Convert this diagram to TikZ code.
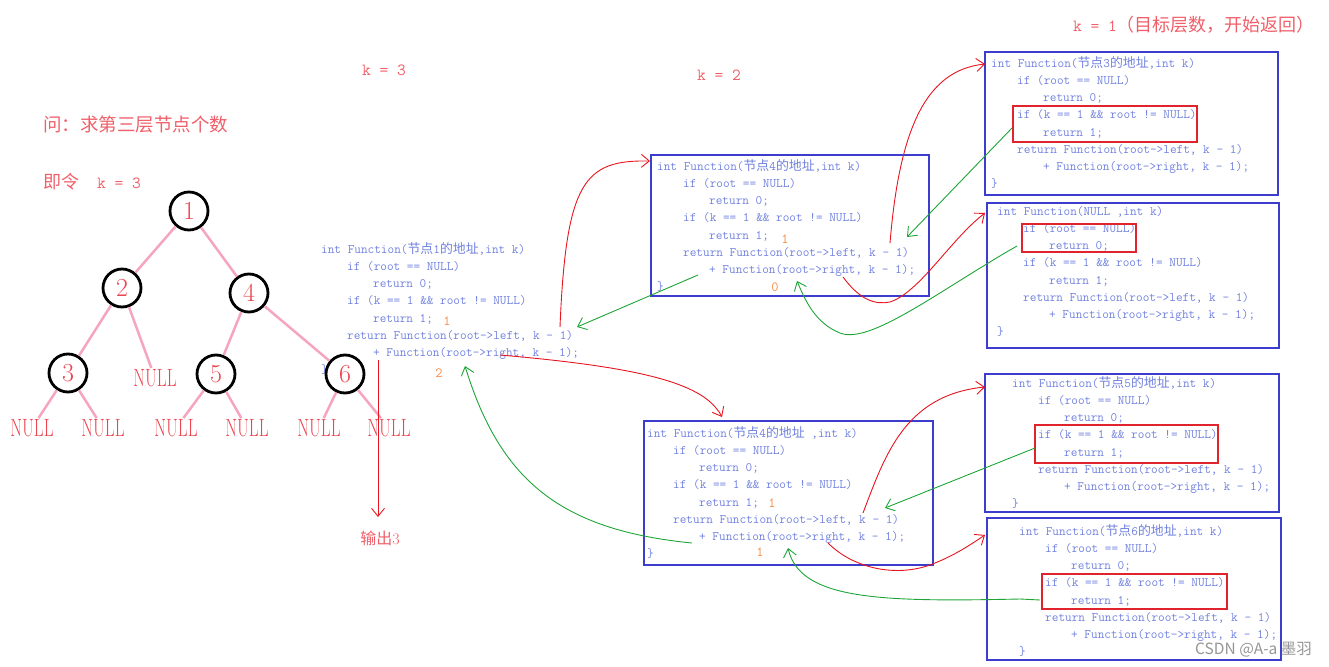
\documentclass[tikz,border=0pt]{standalone}
\usepackage{fontspec}
\usepackage{graphicx}
\usetikzlibrary{arrows.meta}
\newfontfamily\cjk{Noto Sans CJK SC}
\definecolor{codeblue}{RGB}{112,128,222}
\definecolor{boxblue}{RGB}{60,60,205}
\definecolor{hired}{RGB}{225,35,45}
\definecolor{arrred}{RGB}{232,20,30}
\definecolor{arrgreen}{RGB}{30,165,55}
\definecolor{txtred}{RGB}{240,95,105}
\definecolor{treered}{RGB}{235,70,80}
\definecolor{treepink}{RGB}{245,165,190}
\definecolor{numorange}{RGB}{245,140,70}
\definecolor{wmgray}{RGB}{150,150,150}
\newcommand\codefont{\fontsize{12.9}{17.2}\selectfont\ttfamily}
\newcommand\fstr{\rule{0pt}{12pt}}
\newcommand\inda{\hspace*{26pt}}
\newcommand\indb{\hspace*{52pt}}
\newcommand\nul{\scalebox{0.68}[1]{NULL}}
\tikzset{
  codetext/.style={anchor=north west, inner sep=0pt, align=left, text=codeblue, font=\codefont},
  cbox/.style={draw=boxblue, line width=1.2pt, inner sep=0pt},
  hbox/.style={draw=hired, line width=1.2pt, inner sep=0pt},
  redarr/.style={draw=arrred, line width=0.9pt, -{Straight Barb[length=8pt,width=13pt]}},
  grnarr/.style={draw=arrgreen, line width=0.9pt, -{Straight Barb[length=8pt,width=13pt]}},
  tn/.style={circle, draw=black, line width=2.8pt, minimum size=38pt, inner sep=0pt, fill=white, text=treered, font=\fontsize{26}{26}\selectfont},
  nl/.style={inner sep=1pt, text=treered, font=\fontsize{25}{25}\selectfont},
  tedge/.style={draw=treepink, line width=2.5pt},
  rtxt/.style={text=txtred, inner sep=0pt, anchor=west},
  onum/.style={text=numorange, inner sep=0pt, font=\fontsize{14}{14}\selectfont\ttfamily},
}
\begin{document}
\begin{tikzpicture}[x=1pt,y=-1pt]
\useasboundingbox (0,0) rectangle (1329,666);

% titles
\node[rtxt, font=\fontsize{18.5}{18.5}\selectfont\cjk] (q) at (43,125) {问：求第三层节点个数};
\node[rtxt, font=\fontsize{17}{17}\selectfont] (lk) at (43,182) {{\fontsize{18}{18}\selectfont\cjk 即令}\hspace{18pt}{\ttfamily k = 3}};
\node[rtxt, font=\fontsize{17}{17}\selectfont\ttfamily] (k3) at (362,70) {k = 3};
\node[rtxt, font=\fontsize{17}{17}\selectfont\ttfamily] (k2) at (697,75) {k = 2};
\node[rtxt, font=\fontsize{17}{17}\selectfont] (k1) at (1073,25) {{\ttfamily k = 1}{\fontsize{18}{18}\selectfont\cjk （目标层数，开始返回）}};

% code 1 (no frame)
\node[codetext] (c1) at (321,241) {\fstr int Function({\cjk 节点}1{\cjk 的地址},int k)\\
\inda if (root == NULL)\\
\indb return 0;\\
\inda if (k == 1 \&\& root != NULL)\\
\indb return 1;\\
\inda return Function(root->left, k - 1)\\
\indb + Function(root->right, k - 1);\\
\}};

% boxes
\node[cbox, minimum width=278pt, minimum height=141pt] (bA) at (790,225.5) {};
\node[codetext] (cA) at (657,158) {\fstr int Function({\cjk 节点}4{\cjk 的地址},int k)\\
\inda if (root == NULL)\\
\indb return 0;\\
\inda if (k == 1 \&\& root != NULL)\\
\indb return 1;\\
\inda return Function(root->left, k - 1)\\
\indb + Function(root->right, k - 1);\\
\}};

\node[cbox, minimum width=289pt, minimum height=144pt] (bB) at (788.5,493) {};
\node[codetext] (cB) at (647,425) {\fstr int Function({\cjk 节点}4{\cjk 的地址} ,int k)\\
\inda if (root == NULL)\\
\indb return 0;\\
\inda if (k == 1 \&\& root != NULL)\\
\indb return 1;\\
\inda return Function(root->left, k - 1)\\
\indb + Function(root->right, k - 1);\\
\}};

\node[cbox, minimum width=293pt, minimum height=143pt] (bC) at (1131.5,123.5) {};
\node[codetext] (cC) at (991,55) {\fstr int Function({\cjk 节点}3{\cjk 的地址},int k)\\
\inda if (root == NULL)\\
\indb return 0;\\
\inda if (k == 1 \&\& root != NULL)\\
\indb return 1;\\
\inda return Function(root->left, k - 1)\\
\indb + Function(root->right, k - 1);\\
\}};
\node[hbox, minimum width=184pt, minimum height=36pt] (hC) at (1105,124) {};

\node[cbox, minimum width=292pt, minimum height=145pt] (bD) at (1133,275.5) {};
\node[codetext] (cD) at (997,203) {\fstr int Function(NULL ,int k)\\
\inda if (root == NULL)\\
\indb return 0;\\
\inda if (k == 1 \&\& root != NULL)\\
\indb return 1;\\
\inda return Function(root->left, k - 1)\\
\indb + Function(root->right, k - 1);\\
\}};
\node[hbox, minimum width=114pt, minimum height=28pt] (hD) at (1079,238) {};

\node[cbox, minimum width=294pt, minimum height=138pt] (bE) at (1132,443) {};
\node[codetext] (cE) at (1012,375) {\fstr int Function({\cjk 节点}5{\cjk 的地址},int k)\\
\inda if (root == NULL)\\
\indb return 0;\\
\inda if (k == 1 \&\& root != NULL)\\
\indb return 1;\\
\inda return Function(root->left, k - 1)\\
\indb + Function(root->right, k - 1);\\
\}};
\node[hbox, minimum width=183pt, minimum height=38pt] (hE) at (1126.5,444) {};

\node[cbox, minimum width=294pt, minimum height=142pt] (bF) at (1134,589) {};
\node[codetext] (cF) at (1019,523) {\fstr int Function({\cjk 节点}6{\cjk 的地址},int k)\\
\inda if (root == NULL)\\
\indb return 0;\\
\inda if (k == 1 \&\& root != NULL)\\
\indb return 1;\\
\inda return Function(root->left, k - 1)\\
\indb + Function(root->right, k - 1);\\
\}};
\node[hbox, minimum width=185pt, minimum height=35pt] (hF) at (1134.5,591.5) {};

% orange numbers
\node[onum] (o1) at (447,321) {1};
\node[onum] (o2) at (439,373) {2};
\node[onum] (o3) at (785,239) {1};
\node[onum] (o4) at (775,287) {0};
\node[onum] (o5) at (772,503) {1};
\node[onum] (o6) at (760,552) {1};

% tree
\node[tn] (n1) at (189,211) {1};
\node[tn] (n2) at (122,288) {2};
\node[tn] (n4) at (249,293) {4};
\node[tn] (n3) at (68,373) {3};
\node[tn] (n5) at (216,374) {5};
\node[tn] (n6) at (345,374) {6};
\node[nl] (u2) at (155,378) {\nul};
\node[nl] (l1) at (32,428) {\nul};
\node[nl] (l2) at (103,428) {\nul};
\node[nl] (l3) at (176,428) {\nul};
\node[nl] (l4) at (247,428) {\nul};
\node[nl] (l5) at (319,428) {\nul};
\node[nl] (l6) at (389,428) {\nul};
\draw[tedge] (n1) -- (n2);
\draw[tedge] (n1) -- (n4);
\draw[tedge] (n2) -- (n3);
\draw[tedge] (n2) -- (u2);
\draw[tedge] (n4) -- (n5);
\draw[tedge] (n4) -- (n6);
\draw[tedge] (n3) -- (l1);
\draw[tedge] (n3) -- (l2);
\draw[tedge] (n5) -- (l3);
\draw[tedge] (n5) -- (l4);
\draw[tedge] (n6) -- (l5);
\draw[tedge] (n6) -- (l6);

% output
\coordinate (outS) at (378,360);
\coordinate (outE) at (378,517);
\node[text=txtred, inner sep=0pt, font=\fontsize{16}{16}\selectfont] (out) at (380,538) {{\cjk 输出}3};
\draw[redarr] (outS) -- (outE);

% red call arrows
\coordinate (r1s) at (560,327); \coordinate (r1e) at (650,161);
\draw[redarr] (r1s) .. controls (566,180) and (585,160) .. (r1e);
\coordinate (r2s) at (500,355); \coordinate (r2e) at (722,417);
\draw[redarr] (r2s) .. controls (650,368) and (705,385) .. (r2e);
\coordinate (r3s) at (890,243); \coordinate (r3e) at (985,64);
\draw[redarr] (r3s) .. controls (900,120) and (930,70) .. (r3e);
\coordinate (r4s) at (843,277); \coordinate (r4m) at (890,302); \coordinate (r4e) at (985,213);
\draw[redarr] (r4s) .. controls (860,300) and (875,305) .. (r4m) .. controls (920,292) and (950,240) .. (r4e);
\coordinate (r5s) at (863,513); \coordinate (r5e) at (985,387);
\draw[redarr] (r5s) .. controls (885,455) and (905,395) .. (r5e);
\coordinate (r6s) at (828,543); \coordinate (r6m) at (935,563); \coordinate (r6e) at (985,535);
\draw[redarr] (r6s) .. controls (855,570) and (900,578) .. (r6m) .. controls (955,555) and (970,545) .. (r6e);

% green return arrows
\coordinate (g1s) at (698,275); \coordinate (g1e) at (577,327);
\draw[grnarr] (g1s) -- (g1e);
\coordinate (g2s) at (1012,128); \coordinate (g2e) at (907,237);
\draw[grnarr] (g2s) -- (g2e);
\coordinate (g3s) at (1017,246); \coordinate (g3m) at (840,333); \coordinate (g3e) at (797,281);
\draw[grnarr] (g3s) .. controls (940,290) and (870,345) .. (g3m) .. controls (815,323) and (805,300) .. (g3e);
\coordinate (g4s) at (692,543); \coordinate (g4e) at (465,366);
\draw[grnarr] (g4s) .. controls (560,530) and (500,480) .. (g4e);
\coordinate (g5s) at (1035,448); \coordinate (g5e) at (885,508);
\draw[grnarr] (g5s) -- (g5e);
\coordinate (g6s) at (1040,600); \coordinate (g6m) at (1020,599); \coordinate (g6e) at (788,548);
\draw[grnarr] (g6s) -- (g6m) .. controls (880,602) and (800,600) .. (g6e);

% watermark
\node[text=wmgray, inner sep=0pt, anchor=west, font=\fontsize{15.5}{15.5}\selectfont\cjk] (wm) at (1195,650) {CSDN @A-a 墨羽};
\end{tikzpicture}
\end{document}
